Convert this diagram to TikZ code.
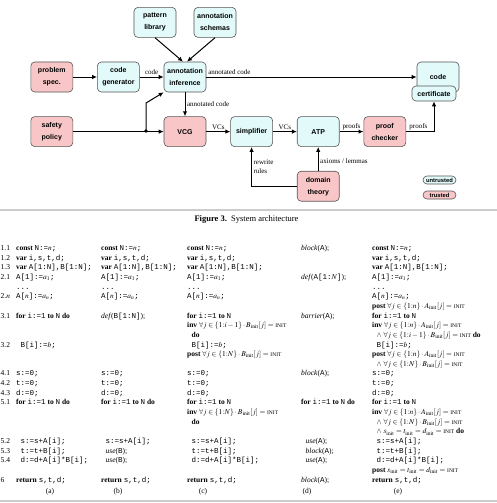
\documentclass[tikz,border=0pt]{standalone}
\usepackage{mathptmx}
\usepackage{fontspec}
\setmainfont{Liberation Serif}
\setsansfont{Liberation Sans}
\setmonofont{Liberation Mono}
\usetikzlibrary{positioning,arrows.meta}

\definecolor{untrust}{HTML}{E2FAFA}
\definecolor{trust}{HTML}{F8C6C6}
\definecolor{boxline}{HTML}{555555}
\definecolor{rulegray}{HTML}{CCCCCC}

\newcommand\kw[1]{\textbf{#1}}
\newcommand\cd[1]{\texttt{#1}}
\newcommand\ind{\hspace*{4.5pt}}
\newcommand\INIT{\mbox{\fontsize{5.5}{6}\selectfont INIT}}
\newcommand\subinit{_{\mathrm{init}}}

\tikzset{
  box/.style={draw=boxline, line width=0.6pt, rounded corners=4pt, minimum width=42pt,
    minimum height=30pt, align=center, inner sep=1pt,
    font=\sffamily\bfseries\fontsize{7}{12}\selectfont},
  untrusted/.style={box, fill=untrust},
  trusted/.style={box, fill=trust},
  tag/.style={minimum width=33pt, minimum height=8pt, inner sep=0pt, rounded corners=4pt,
    font=\sffamily\bfseries\fontsize{5.8}{7}\selectfont},
  flow/.style={-{Latex[length=5pt,width=4.5pt]}, line width=1pt},
  lbl/.style={font=\fontsize{7}{8.5}\selectfont, inner sep=1.5pt},
  code/.style={anchor=base west, inner sep=0pt, font=\fontsize{7.5}{9}\selectfont},
}

\begin{document}
\begin{tikzpicture}[x=1pt, y=-1pt, node distance=24pt]
  \useasboundingbox (0,0) rectangle (497,503);

  % architecture
  \node[untrusted] (ai) at (185,77) {annotation\\inference};
  \node[untrusted, left=of ai] (cg) {code\\generator};
  \node[trusted, left=of cg] (ps) {problem\\spec.};
  \node[untrusted, above=of ai, xshift=-30pt] (pl) {pattern\\library};
  \node[untrusted, above=of ai, xshift=30pt] (as) {annotation\\schemas};
  \node[trusted, below=of ai] (vcg) {VCG};
  \node[trusted, below=of ps] (sp) {safety\\policy};
  \node[untrusted, right=of vcg] (simp) {simplifier};
  \node[untrusted, right=of simp] (atp) {ATP};
  \node[trusted, right=of atp] (pc) {proof\\checker};
  \node[trusted, below=of atp] (dt) {domain\\theory};
  \node[untrusted] (cb) at (438,77) {code};
  \node[untrusted, minimum width=44pt, minimum height=15pt] (cert) at (434,93.5) {certificate};
  \node[untrusted, tag, draw=boxline] (lu) at (439.5,180) {untrusted};
  \node[trusted, tag, draw=boxline] (lt) at (439.5,195) {trusted};
  \coordinate (split) at (146,131);

  \draw[flow] (pl.south) -- ([xshift=-2pt]ai.north);
  \draw[flow] (as.south) -- ([xshift=2pt]ai.north);
  \draw[flow] (ps) -- (cg);
  \draw[flow] (cg) -- node[lbl, above] {code} (ai);
  \draw[flow] (ai) -- node[lbl, above right, pos=0] {annotated code} (cb);
  \draw[flow] (ai) -- node[lbl, right] {annotated code} (vcg);
  \draw[flow] (sp) -- (vcg);
  \fill (split) circle (1.8pt);
  \draw[flow] (split) -- ++(0,-28) -- (ai.south west);
  \draw[flow] (vcg) -- node[lbl, above] {VCs} (simp);
  \draw[flow] (simp) -- node[lbl, above] {VCs} (atp);
  \draw[flow] (atp) -- node[lbl, above] {proofs} (pc);
  \draw[flow] (pc) -| node[lbl, above, pos=0.22] {proofs} (cert);
  \draw[flow] (dt) -- node[lbl, right, pos=0.4] {axioms / lemmas} (atp);
  \draw[flow] (dt) -| node[lbl, right, align=left, pos=0.75] {rewrite\\rules} (simp);

  % caption and rules
  \draw[rulegray, line width=1.6pt] (0,210) -- (497,210);
  \node[font=\fontsize{8.5}{10}\selectfont] (cap) at (246.5,219)
    {\textbf{Figure 3.}\ \ System architecture};
  \draw[rulegray, line width=1.6pt] (0,501) -- (497,501);

  % listings
  \foreach \k/\txt in {0/1.1,1/1.2,2/1.3,3/2.1,5/{2.$n$},7/3.1,10/3.2,13/4.1,14/4.2,
      15/4.3,16/5.1,20/5.2,21/5.3,22/5.4,24/6}
    \node[code] at (0.5,{250.5+9.65*\k}) {\txt};
  \foreach \cx in {16,101,187,372}
    \foreach \k/\txt in {0/{\kw{const} \cd{N:=}$n$\cd{;}}, 1/{\kw{var} \cd{i,s,t,d;}},
        2/{\kw{var} \cd{A[1:N],B[1:N];}}, 3/{\cd{A[1]:=}$a_1$\cd{;}}, 4/{\cd{...}},
        5/{\cd{A[}$n$\cd{]:=}$a_n$\cd{;}}, 13/{\cd{s:=0;}}, 14/{\cd{t:=0;}},
        15/{\cd{d:=0;}}, 24/{\kw{return} \cd{s,t,d;}}}
      \node[code] at (\cx,{250.5+9.65*\k}) {\txt};
  \foreach \k/\txt in {7/{\kw{for} \cd{i:=1} \kw{to} \cd{N} \kw{do}}, 10/{\ind\cd{B[i]:=}$b$\cd{;}},
      16/{\kw{for} \cd{i:=1} \kw{to} \cd{N} \kw{do}}, 20/{\ind\cd{s:=s+A[i];}},
      21/{\ind\cd{t:=t+B[i];}}, 22/{\ind\cd{d:=d+A[i]*B[i];}}}
    \node[code] at (16,{250.5+9.65*\k}) {\txt};
  \foreach \k/\txt in {7/{\textit{def}(\cd{B[1:N]});}, 16/{\kw{for} \cd{i:=1} \kw{to} \cd{N} \kw{do}},
      20/{\ind\cd{s:=s+A[i];}}, 21/{\ind\textit{use}(\cd{B});}, 22/{\ind\textit{use}(\cd{B});}}
    \node[code] at (101,{250.5+9.65*\k}) {\txt};
  \foreach \k/\txt in {7/{\kw{for} \cd{i:=1} \kw{to} \cd{N}},
      8/{\kw{inv} $\forall j\in\{1{:}i-1\}\cdot B\subinit[j]=\INIT$}, 9/{\ind\kw{do}},
      10/{\ind\cd{B[i]:=}$b$\cd{;}}, 11/{\kw{post} $\forall j\in\{1{:}N\}\cdot B\subinit[j]=\INIT$},
      16/{\kw{for} \cd{i:=1} \kw{to} \cd{N}},
      17/{\kw{inv} $\forall j\in\{1{:}N\}\cdot B\subinit[j]=\INIT$}, 18/{\ind\kw{do}},
      20/{\ind\cd{s:=s+A[i];}}, 21/{\ind\cd{t:=t+B[i];}}, 22/{\ind\cd{d:=d+A[i]*B[i];}}}
    \node[code] at (187,{250.5+9.65*\k}) {\txt};
  \foreach \k/\txt in {0/{\textit{block}(\cd{A});}, 3/{\textit{def}(\cd{A[1:}$N$\cd{]});},
      7/{\textit{barrier}(\cd{A});}, 13/{\textit{block}(\cd{A});},
      16/{\kw{for} \cd{i:=1} \kw{to} \cd{N} \kw{do}}, 20/{\ind\textit{use}(\cd{A});},
      21/{\ind\textit{block}(\cd{A});}, 22/{\ind\textit{use}(\cd{A});}, 24/{\textit{block}(\cd{A});}}
    \node[code] at (301,{250.5+9.65*\k}) {\txt};
  \foreach \k/\txt in {6/{\kw{post} $\forall j\in\{1{:}n\}\cdot A\subinit[j]=\INIT$},
      7/{\kw{for} \cd{i:=1} \kw{to} \cd{N}},
      8/{\kw{inv} $\forall j\in\{1{:}n\}\cdot A\subinit[j]=\INIT$},
      9/{\ind$\wedge\ \forall j\in\{1{:}i-1\}\cdot B\subinit[j]=\INIT$ \kw{do}},
      10/{\ind\cd{B[i]:=}$b$\cd{;}},
      11/{\kw{post} $\forall j\in\{1{:}n\}\cdot A\subinit[j]=\INIT$},
      12/{\ind$\wedge\ \forall j\in\{1{:}N\}\cdot B\subinit[j]=\INIT$},
      16/{\kw{for} \cd{i:=1} \kw{to} \cd{N}},
      17/{\kw{inv} $\forall j\in\{1{:}n\}\cdot A\subinit[j]=\INIT$},
      18/{\ind$\wedge\ \forall j\in\{1{:}N\}\cdot B\subinit[j]=\INIT$},
      19/{\ind$\wedge\ s\subinit=t\subinit=d\subinit=\INIT$ \kw{do}},
      20/{\ind\cd{s:=s+A[i];}}, 21/{\ind\cd{t:=t+B[i];}}, 22/{\ind\cd{d:=d+A[i]*B[i];}},
      23/{\kw{post} $s\subinit=t\subinit=d\subinit=\INIT$}}
    \node[code] at (372,{250.5+9.65*\k}) {\txt};
  \foreach \cx/\lab in {50/a,118/b,203/c,307/d,398/e}
    \node[font=\fontsize{7.5}{9}\selectfont] at (\cx,492) {(\lab)};
\end{tikzpicture}
\end{document}
